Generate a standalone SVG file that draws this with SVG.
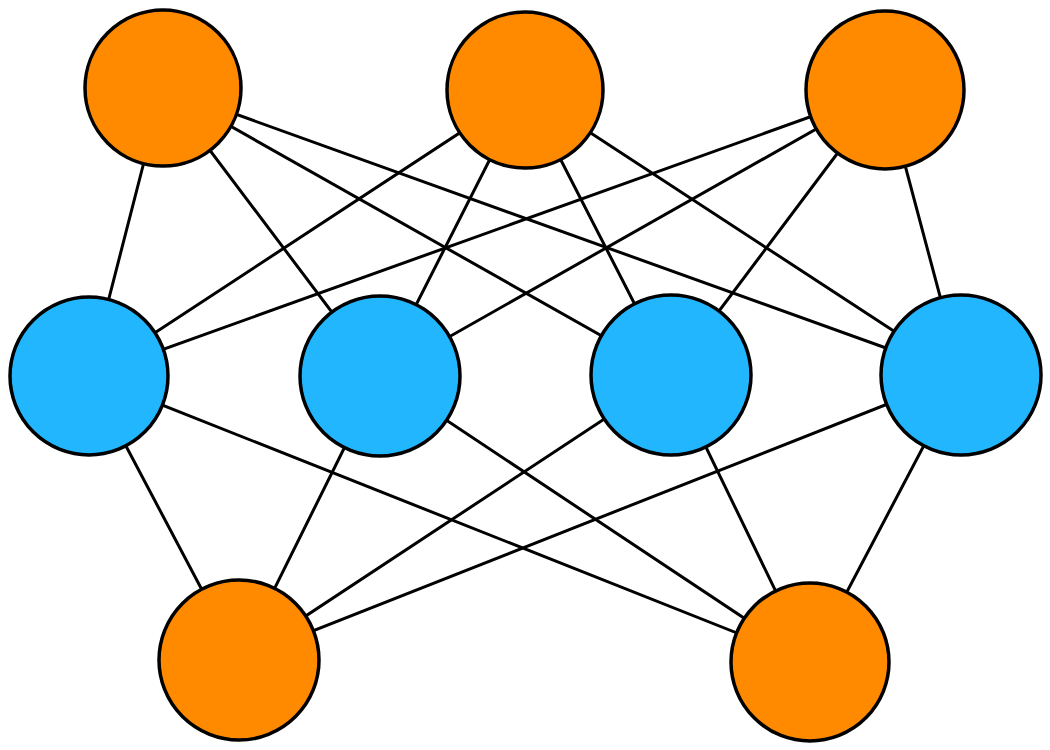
<svg xmlns="http://www.w3.org/2000/svg" width="1050" height="750" viewBox="0 0 1050 750">
<style>
.edge{stroke:#000;stroke-width:3;stroke-linecap:round;fill:none}
.o{fill:#FF8A00;stroke:#000;stroke-width:3.5}
.b{fill:#22B6FF;stroke:#000;stroke-width:3.5}
</style>
<rect width="1050" height="750" fill="#fff"/>
<g id="connectors">
<line class="edge" x1="163" y1="88" x2="89" y2="376"/>
<line class="edge" x1="163" y1="88" x2="380" y2="376"/>
<line class="edge" x1="163" y1="88" x2="671" y2="375"/>
<line class="edge" x1="163" y1="88" x2="961" y2="375"/>
<line class="edge" x1="525" y1="90" x2="89" y2="376"/>
<line class="edge" x1="525" y1="90" x2="380" y2="376"/>
<line class="edge" x1="525" y1="90" x2="671" y2="375"/>
<line class="edge" x1="525" y1="90" x2="961" y2="375"/>
<line class="edge" x1="885" y1="90" x2="89" y2="376"/>
<line class="edge" x1="885" y1="90" x2="380" y2="376"/>
<line class="edge" x1="885" y1="90" x2="671" y2="375"/>
<line class="edge" x1="885" y1="90" x2="961" y2="375"/>
<line class="edge" x1="89" y1="376" x2="239" y2="660"/>
<line class="edge" x1="89" y1="376" x2="810" y2="662"/>
<line class="edge" x1="380" y1="376" x2="239" y2="660"/>
<line class="edge" x1="380" y1="376" x2="810" y2="662"/>
<line class="edge" x1="671" y1="375" x2="239" y2="660"/>
<line class="edge" x1="671" y1="375" x2="810" y2="662"/>
<line class="edge" x1="961" y1="375" x2="239" y2="660"/>
<line class="edge" x1="961" y1="375" x2="810" y2="662"/>
</g>
<g id="top1"><circle class="o" cx="163" cy="88" r="78"/></g>
<g id="top2"><circle class="o" cx="525" cy="90" r="78"/></g>
<g id="top3"><circle class="o" cx="885" cy="90" r="79"/></g>
<g id="mid1"><circle class="b" cx="89" cy="376" r="79"/></g>
<g id="mid2"><circle class="b" cx="380" cy="376" r="80"/></g>
<g id="mid3"><circle class="b" cx="671" cy="375" r="80"/></g>
<g id="mid4"><circle class="b" cx="961" cy="375" r="80"/></g>
<g id="bot1"><circle class="o" cx="239" cy="660" r="80"/></g>
<g id="bot2"><circle class="o" cx="810" cy="662" r="79"/></g>
</svg>
